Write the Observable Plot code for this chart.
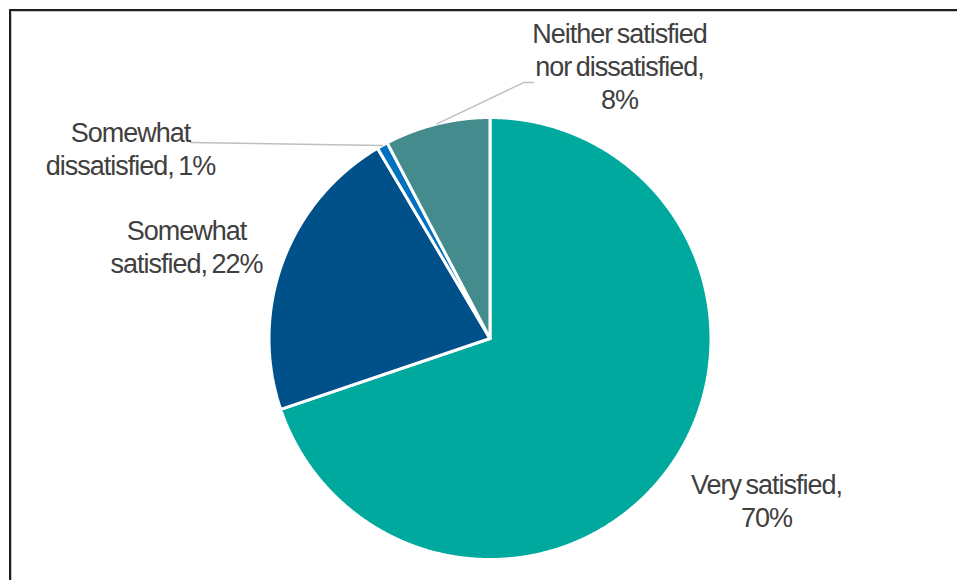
<!DOCTYPE html>
<html><head><meta charset="utf-8">
<script src="https://cdn.jsdelivr.net/npm/d3@7"></script>
<script src="https://cdn.jsdelivr.net/npm/@observablehq/plot@0.6"></script>
<style>
body{margin:0;background:#fff;}
#wrap{position:relative;width:957px;height:580px;overflow:hidden;}
#wrap svg{position:absolute;left:0;top:0;}
#border{position:absolute;z-index:2;left:9px;top:9px;right:-10px;bottom:-10px;border-top:2px solid #1e1e1e;border-left:2px solid #1e1e1e;box-shadow:inset 1px 1px 0 #c8c8c8;pointer-events:none;}
</style></head><body><div id="wrap"><div id="border"></div></div>
<script>
// ---- data ----
const categories = ["Very satisfied", "Somewhat satisfied", "Somewhat dissatisfied", "Neither satisfied nor dissatisfied"];
const shares = [69.8, 21.7, 0.8, 7.7];
const labelTemplates = ["Very satisfied,\n{p}%", "Somewhat\nsatisfied, {p}%", "Somewhat\ndissatisfied, {p}%", "Neither satisfied\nnor dissatisfied,\n{p}%"];
const sliceColors = ["#00A99D", "#005189", "#0070C0", "#448B8E"];

// ---- label layout (in pie-radius units, pie centre = 0,0) ----
const labelAnchor = [[1.251, -0.600], [-1.373, 0.550], [-1.627, 0.994], [0.586, 1.441]];
const leaderEnds = [null, null, [[-1.355, 0.887]], [[0.152, 1.158], [0.197, 1.158]]];

// ---- geometry via d3.pie ----
const arcs = d3.pie().sort(null).value(d => d)(shares);
const piePts = [];
arcs.forEach((a, i) => {
  const cat = categories[i];
  piePts.push({cat, x: 0, y: 0});
  const n = Math.max(2, Math.ceil((a.endAngle - a.startAngle) / (Math.PI / 720)));
  for (let k = 0; k <= n; k++) {
    const t = a.startAngle + (a.endAngle - a.startAngle) * k / n;
    piePts.push({cat, x: Math.sin(t), y: Math.cos(t)});
  }
  piePts.push({cat, x: 0, y: 0});
});

const leaderPts = [];
arcs.forEach((a, i) => {
  if (!leaderEnds[i]) return;
  const m = (a.startAngle + a.endAngle) / 2;
  leaderPts.push({id: i, x: Math.sin(m), y: Math.cos(m)});
  leaderEnds[i].forEach(([x, y]) => leaderPts.push({id: i, x, y}));
});

const labels = categories.map((c, i) => ({
  x: labelAnchor[i][0], y: labelAnchor[i][1],
  text: labelTemplates[i].replace("{p}", Math.round(shares[i]))
}));

const chart = Plot.plot({
  width: 957, height: 580,
  marginLeft: 268.5, marginRight: 246.5, marginTop: 117, marginBottom: 21,
  x: {domain: [-1, 1], axis: null},
  y: {domain: [-1, 1], axis: null},
  color: {domain: categories, range: sliceColors},
  style: {fontFamily: "Arial, 'Liberation Sans', sans-serif", letterSpacing: "-1px", wordSpacing: "-2px", background: "transparent", overflow: "visible"},
  marks: [
    Plot.line(piePts, {x: "x", y: "y", z: "cat", fill: "cat", stroke: "white", strokeWidth: 3, strokeLinejoin: "miter", curve: "linear"}),
    Plot.line(leaderPts, {x: "x", y: "y", z: "id", stroke: "#BFBFBF", strokeWidth: 1.5, curve: "linear"}),
    Plot.text(labels, {x: "x", y: "y", text: "text", lineAnchor: "top", textAnchor: "middle", fill: "#404040", fontSize: 27, lineHeight: 1.22})
  ]
});
document.getElementById("wrap").appendChild(chart);
</script>
</body></html>
